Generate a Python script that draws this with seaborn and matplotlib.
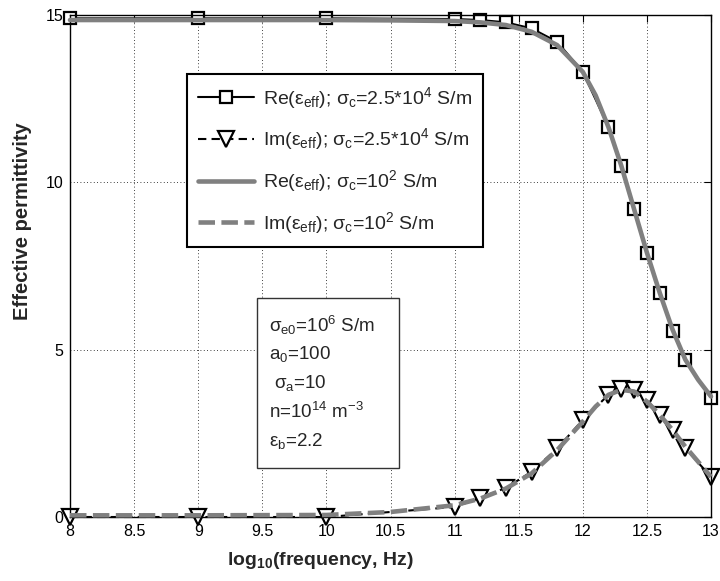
import numpy as np
import pandas as pd
import matplotlib
matplotlib.use("Agg")
import matplotlib.pyplot as plt
import seaborn as sns
from matplotlib.patches import Rectangle

# === DATA ===
freq = [8, 9, 10, 11, 11.2, 11.4, 11.6, 11.8, 12, 12.2, 12.3, 12.4, 12.5, 12.6, 12.7, 12.8, 13]
re_high = [14.9, 14.9, 14.9, 14.88, 14.85, 14.78, 14.6, 14.2, 13.3, 11.65, 10.5, 9.2, 7.9, 6.7, 5.55, 4.7, 3.55]
im_high = [0, 0, 0, 0.3, 0.57, 0.87, 1.35, 2.05, 2.9, 3.65, 3.82, 3.78, 3.5, 3.05, 2.6, 2.05, 1.2]

freq_low = [8, 9, 10, 10.5, 11, 11.2, 11.4, 11.6, 11.8, 12, 12.1, 12.2, 12.3, 12.4, 12.5, 12.6, 12.7, 12.8, 12.9, 13]
re_low = [14.85, 14.85, 14.85, 14.84, 14.82, 14.78, 14.7, 14.5, 14.1, 13.3, 12.6, 11.65, 10.5, 9.2, 7.9, 6.7, 5.6, 4.7, 4.1, 3.6]
im_low = [0.05, 0.05, 0.06, 0.15, 0.35, 0.55, 0.85, 1.3, 2.0, 2.85, 3.3, 3.65, 3.8, 3.75, 3.45, 3.05, 2.6, 2.1, 1.65, 1.2]

x_ticks = [8, 8.5, 9, 9.5, 10, 10.5, 11, 11.5, 12, 12.5, 13]
x_ticklabels = ['8', '8.5', '9', '9.5', '10', '10.5', '11', '11.5', '12', '12.5', '13']
y_ticks = [0, 5, 10, 15]

labels = [r'Re($\varepsilon_{\mathrm{eff}}$); $\sigma_{\mathrm{c}}$=2.5*10$^{4}$ S/m',
          r'Im($\varepsilon_{\mathrm{eff}}$); $\sigma_{\mathrm{c}}$=2.5*10$^{4}$ S/m',
          r'Re($\varepsilon_{\mathrm{eff}}$); $\sigma_{\mathrm{c}}$=10$^{2}$ S/m',
          r'Im($\varepsilon_{\mathrm{eff}}$); $\sigma_{\mathrm{c}}$=10$^{2}$ S/m']

params = [r'$\sigma_{\mathrm{e0}}$=10$^{6}$ S/m',
          r'a$_{0}$=100',
          r' $\sigma_{\mathrm{a}}$=10',
          r'n=10$^{14}$ m$^{-3}$',
          r'$\varepsilon_{\mathrm{b}}$=2.2']

# === STYLE ===
sns.set_style("white")
plt.rcParams['font.family'] = ['Liberation Sans', 'DejaVu Sans']
plt.rcParams['mathtext.fontset'] = 'custom'
plt.rcParams['mathtext.rm'] = 'Liberation Sans'
plt.rcParams['mathtext.it'] = 'Liberation Sans'
plt.rcParams['mathtext.bf'] = 'Liberation Sans:bold'
plt.rcParams['mathtext.sf'] = 'Liberation Sans'

GRAY = '#808080'

df_high = pd.DataFrame({'freq': freq, 're': re_high, 'im': im_high})
df_low = pd.DataFrame({'freq': freq_low, 're': re_low, 'im': im_low})

fig = plt.figure(figsize=(7.2, 5.81), dpi=100)
ax = fig.add_axes([70 / 720, 1 - 517 / 581, 641 / 720, 502 / 581])

sns.lineplot(data=df_high, x='freq', y='re', ax=ax, color='k', lw=1.5,
             marker='s', markersize=9, mfc='white', mec='k', mew=1.6,
             label=labels[0], clip_on=False, zorder=2)
sns.lineplot(data=df_high, x='freq', y='im', ax=ax, color='k', lw=1.5,
             linestyle=(0, (4, 2.5)), marker='v', markersize=11, mfc='white',
             mec='k', mew=1.6, label=labels[1], clip_on=False, zorder=2)
sns.lineplot(data=df_low, x='freq', y='re', ax=ax, color=GRAY, lw=3.3,
             label=labels[2], clip_on=False, zorder=3)
sns.lineplot(data=df_low, x='freq', y='im', ax=ax, color=GRAY, lw=3.3,
             linestyle=(0, (3.6, 1.4)), label=labels[3], clip_on=False, zorder=3)

ax.set_xlim(8, 13)
ax.set_ylim(0, 15)
ax.set_xticks(x_ticks)
ax.set_xticklabels(x_ticklabels)
ax.set_yticks(y_ticks)
ax.tick_params(axis='both', direction='in', length=5, width=0.8, labelsize=11.5,
               top=True, right=True, colors='k')
ax.tick_params(axis='x', pad=5)
ax.tick_params(axis='y', pad=5)
ax.grid(True, color='k', linestyle=(0, (1, 3)), linewidth=0.6)
for s in ax.spines.values():
    s.set_visible(True)
    s.set_color('k')
    s.set_linewidth(1.0)

ax.set_xlabel(r'log$_{\mathbf{10}}$(frequency, Hz)', fontsize=14, fontweight='bold')
ax.set_ylabel('Effective permittivity', fontsize=14.5, fontweight='bold')
ax.xaxis.set_label_coords(0.39, -0.066)
ax.yaxis.set_label_coords(-0.059, 0.59)

leg = ax.legend(loc='upper left', bbox_to_anchor=(0.1825, 0.8825), borderaxespad=0,
                fontsize=14, handlelength=2.9, handletextpad=0.45, labelspacing=0.82,
                borderpad=0.55, frameon=True, fancybox=False)
leg.get_frame().set_edgecolor('k')
leg.get_frame().set_linewidth(1.5)
leg.get_frame().set_alpha(1)

# parameter box
x0, x1 = (257 - 70) / 641, (399 - 70) / 641
y0, y1 = (517 - 468) / 502, (517 - 298) / 502
ax.add_patch(Rectangle((x0, y0), x1 - x0, y1 - y0, transform=ax.transAxes,
                       facecolor='white', edgecolor='#333333', lw=1.0, zorder=5))
for i, t in enumerate(params):
    ax.text(x0 + 12 / 641, y1 - (27 + 29 * i) / 502, t, transform=ax.transAxes,
            fontsize=13.5, va='center', ha='left', zorder=6)

fig.savefig('out.png', dpi=100)
